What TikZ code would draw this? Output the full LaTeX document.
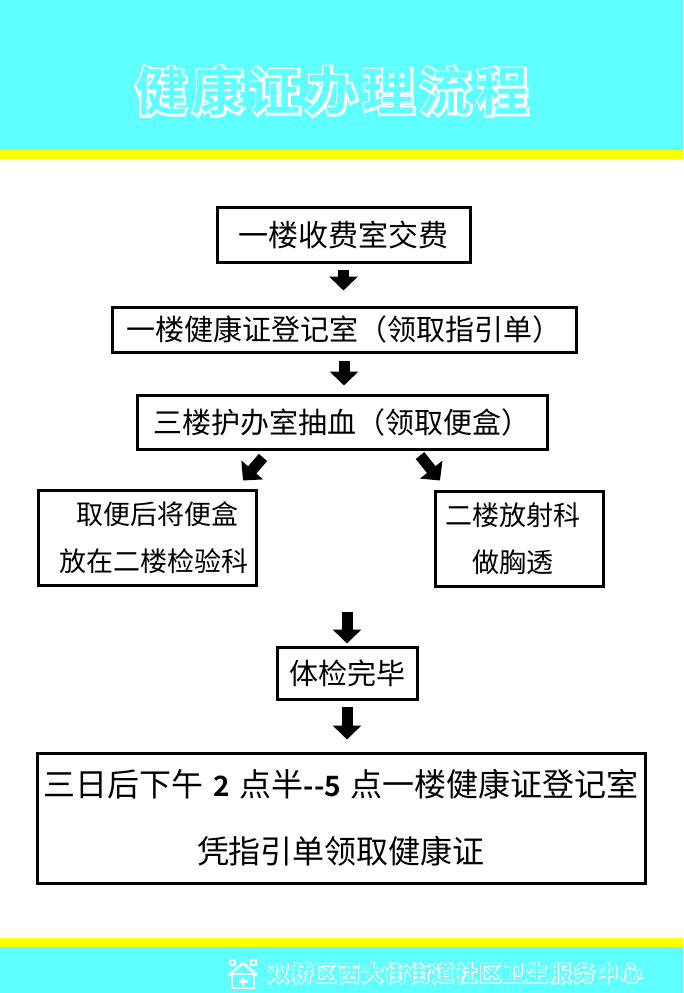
\documentclass[tikz,border=0pt]{standalone}
\usepackage{fontspec}
\setmainfont{Noto Sans CJK SC}
\newfontfamily\haloFont{Noto Sans CJK SC}[UprightFont=* Bold,FakeBold=8]
\newfontfamily\capFont{Noto Sans CJK SC}[UprightFont=* Bold]
\usetikzlibrary{arrows.meta}
\usetikzlibrary{positioning}
\usetikzlibrary{calc}
\definecolor{bandcyan}{RGB}{96,255,255}
\definecolor{bandyellow}{RGB}{255,255,0}
\newcommand{\fs}[2]{\fontsize{#1}{#2}\selectfont}
\newcommand{\titletext}{健\kern5pt 康\kern5pt 证\kern5pt 办\kern5pt 理\kern5pt 流\kern5pt 程}
\newcommand{\foottext}{双\kern1.5pt 桥\kern1.5pt 区\kern1.5pt 西\kern1.5pt 大\kern1.5pt 街\kern1.5pt 街\kern1.5pt 道\kern1.5pt 社\kern1.5pt 区\kern1.5pt 卫\kern1.5pt 生\kern1.5pt 服\kern1.5pt 务\kern1.5pt 中\kern1.5pt 心}
\newcommand{\bnum}[1]{{\capFont\fs{28}{28}#1}}

\begin{document}
\begin{tikzpicture}[
        x=1pt,y=-1pt,
        every node/.style={inner sep=0pt},
        stepbox/.style={rectangle,draw=black,line width=3pt},
        halo/.style={text=white,font=\haloFont\fs{#1}{#1}},
        hollow/.style={text=bandcyan,font=\capFont\fs{#1}{#1}},
        blockarrow/.style={line width=11pt,-{Triangle[width=28pt,length=14pt]}}
      ]
      \useasboundingbox (0,0) rectangle (683,993);
      % bands
      \fill[bandcyan] (0,0) rectangle (683,150);
      \fill[bandyellow] (0,150) rectangle (683,159);
      \fill[bandyellow] (0,938) rectangle (683,947);
      \fill[bandcyan] (0,947) rectangle (683,993);

      % title
      \node[halo=52] (titlehalo) at (332,91) {\titletext};
      \node[hollow=52] (title) at (332,91) {\titletext};

      % steps
      \node[stepbox,minimum width=253pt,minimum height=55pt,font=\fs{30}{30}] (fee) at (343.5,234.5) {一楼收费室交费};
      \node[stepbox,minimum width=464pt,minimum height=45pt,font=\fs{29}{29}] (reg) at (344,329.5) {一楼健康证登记室（领取指引单）};
      \node[stepbox,minimum width=410pt,minimum height=54pt,font=\fs{29}{29}] (blood) at (342,422) {三楼护办室抽血（领取便盒）};
      \node[stepbox,minimum width=218pt,minimum height=95pt,align=left,font=\fs{27}{47}] (stool) at (147,537.5)
        {\hspace*{31pt}取便后将便盒\\\hspace*{14pt}放在二楼检验科};
      \node[stepbox,minimum width=168pt,minimum height=95pt,align=center,font=\fs{27}{47}] (xray) at (519,538.5)
        {二楼放射科\hspace*{12pt}\\做胸透\hspace*{12pt}};
      \node[stepbox,minimum width=140pt,minimum height=52pt,font=\fs{29}{29}] (done) at (347,673) {体检完毕};
      \node[stepbox,minimum width=608pt,minimum height=130pt,align=center,font=\fs{32}{67}] (final) at (341,818)
        {三日后下午\hspace{10pt}\bnum{2}\hspace{10pt}点半\bnum{-{}-5}\hspace{10pt}点一楼健康证登记室\\凭指引单领取健康证};

      % arrows
      \coordinate (lefttail) at ($(blood.south)+(-79,7)$);
      \coordinate (lefttip) at ($(blood.south)+(-99,30)$);
      \coordinate (righttail) at ($(blood.south)+(78,5)$);
      \coordinate (righttip) at ($(blood.south)+(98,30)$);
      \coordinate (resume) at (347,612);
      \draw[blockarrow] ([yshift=-6pt]fee.south) -- ([yshift=15pt]fee.south |- reg.north);
      \draw[blockarrow] ([yshift=-7pt]reg.south) -- ([yshift=8pt]reg.south |- blood.north);
      \draw[blockarrow] (lefttail) -- (lefttip);
      \draw[blockarrow] (righttail) -- (righttip);
      \draw[blockarrow] (resume) -- ([yshift=2pt]done.north);
      \draw[blockarrow] ([yshift=-6pt]done.south) -- ([yshift=12pt]done.south |- final.north);

      % footer
      \draw[white,line width=2.5pt,line join=round] (229,975) -- (243,963) -- (257,975);
      \draw[white,line width=2.5pt] (232,974) rectangle (254,988);
      \draw[white,line width=2.5pt] (243,977) -- (243,986) (238.5,981.5) -- (247.5,981.5);
      \draw[white,line width=2pt] (230,960) rectangle (235,965) (251,960) rectangle (256,965);
      \node[halo=22] (orghalo) at (455,973) {\foottext};
      \node[hollow=22] (org) at (455,973) {\foottext};
    \end{tikzpicture}
\end{document}
